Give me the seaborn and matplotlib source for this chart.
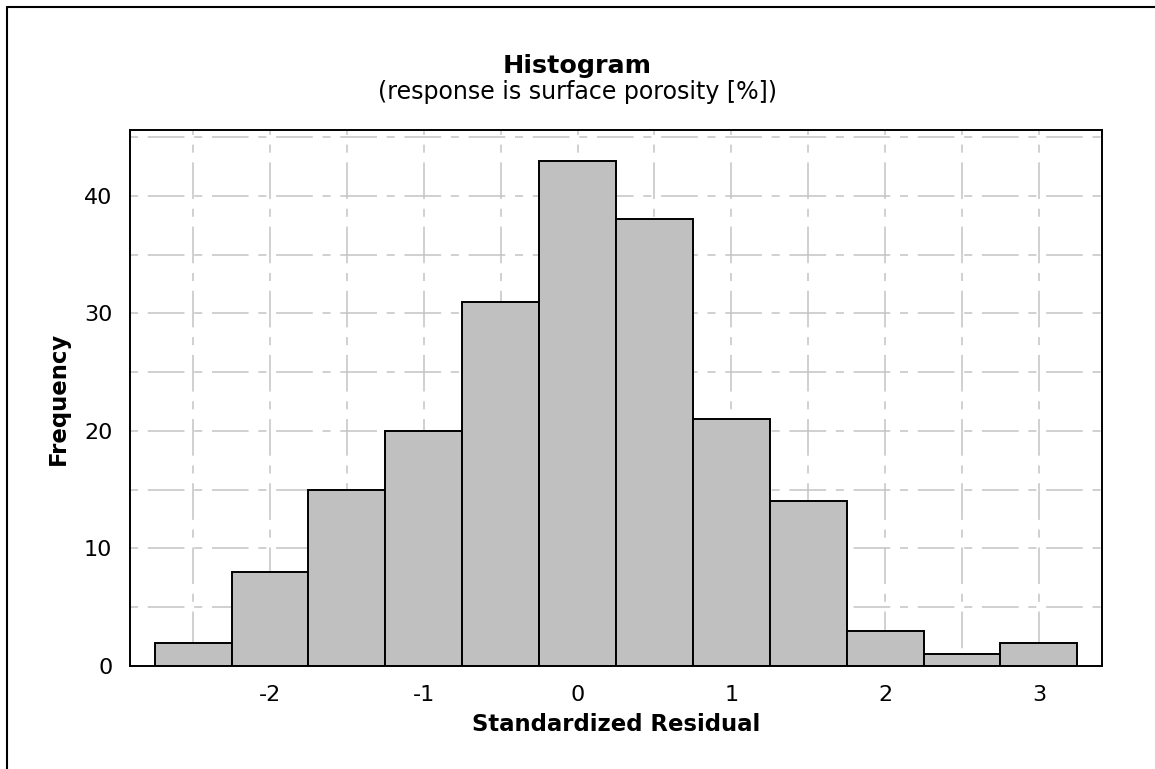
import matplotlib
matplotlib.use("Agg")
import matplotlib.pyplot as plt
from matplotlib.lines import Line2D
import numpy as np
import pandas as pd
import seaborn as sns

# Histogram of standardized residuals (bin midpoints and frequencies)
bin_midpoints = [-2.5, -2.0, -1.5, -1.0, -0.5, 0.0, 0.5, 1.0, 1.5, 2.0, 2.5, 3.0]
frequencies = [2, 8, 15, 20, 31, 43, 38, 21, 14, 3, 1, 2]
bin_width = 0.5

x_ticks = [-2, -1, 0, 1, 2, 3]
y_ticks = [0, 10, 20, 30, 40]

title = "Histogram"
subtitle = "(response is surface porosity [%])"
x_label = "Standardized Residual"
y_label = "Frequency"

sns.set_style("white")
plt.rcParams["font.family"] = ["DejaVu Sans"]
plt.rcParams["lines.scale_dashes"] = False
plt.rcParams["text.color"] = "black"
plt.rcParams["axes.labelcolor"] = "black"

fig = plt.figure(figsize=(11.55, 7.69), dpi=100)
ax = fig.add_axes([0.1126, 0.1339, 0.9541 - 0.1126, 0.8309 - 0.1339])

# grid: dash-dot pattern in light gray at every half unit / every 5 counts
grid_kw = dict(color="#c4c4c4", linewidth=1.1, dashes=(5.8, 7.0, 26.4, 7.0), zorder=0)
for gx in np.arange(-2.5, 3.01, 0.5):
    ax.axvline(gx, **grid_kw)
for gy in np.arange(5, 46, 5):
    ax.axhline(gy, **grid_kw)

df = pd.DataFrame({"residual": bin_midpoints, "count": frequencies})
lo = bin_midpoints[0] - bin_width / 2
hi = bin_midpoints[-1] + bin_width / 2
sns.histplot(data=df, x="residual", weights="count", binwidth=bin_width,
             binrange=(lo, hi), ax=ax, color="#c0c0c0", edgecolor="black",
             linewidth=1.4, alpha=1.0, zorder=2)

ax.set_xlim(-2.91, 3.41)
ax.set_ylim(0, 45.6)
ax.set_xticks(x_ticks)
ax.set_xticklabels([str(t) for t in x_ticks])
ax.set_yticks(y_ticks)
ax.set_yticklabels([str(t) for t in y_ticks])
ax.tick_params(axis="both", direction="out", length=7, width=1.4,
               labelsize=16, colors="black")
ax.tick_params(axis="x", pad=6.5)
ax.tick_params(axis="y", pad=5.8)
for s in ax.spines.values():
    s.set_visible(True)
    s.set_color("black")
    s.set_linewidth(1.4)

ax.set_xlabel(x_label, fontsize=16.4, fontweight="bold", labelpad=6, color="black")
ax.set_ylabel(y_label, fontsize=16.4, fontweight="bold", labelpad=10, color="black")

fig.text(0.5, 1 - 72.5 / 769, title, ha="center", va="baseline",
         fontsize=18.3, fontweight="bold", color="black")
fig.text(0.5, 1 - 99.5 / 769, subtitle, ha="center", va="baseline",
         fontsize=17.1, color="black")

# outer frame (left and top edges)
fx = 6.5 / 1155
fy = 1 - 6.5 / 769
fig.add_artist(Line2D([fx, fx], [0, fy], transform=fig.transFigure,
                      color="black", linewidth=1.5))
fig.add_artist(Line2D([fx, 1], [fy, fy], transform=fig.transFigure,
                      color="black", linewidth=1.5))

fig.savefig("out.png", dpi=100, facecolor="white")
